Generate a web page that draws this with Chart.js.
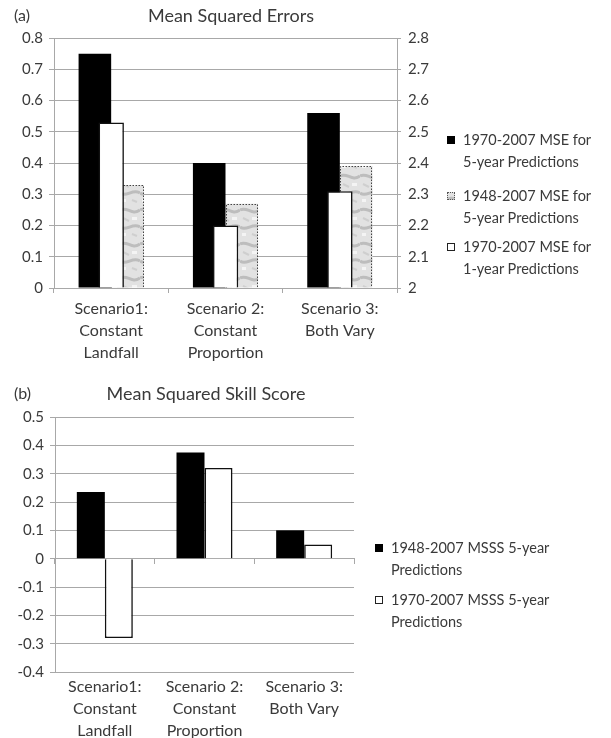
<!DOCTYPE html>
<html lang="en">
<head>
<meta charset="UTF-8">
<title>Mean Squared Errors and Skill Score</title>
<script src="https://cdn.jsdelivr.net/npm/chart.js"></script>
<style>
    body { margin: 0; background: #fff; font-family: Lato, sans-serif; color: #3a3a3a; }
    .wrap { position: relative; width: 611px; height: 738px; overflow: hidden; }
    canvas { position: absolute; left: 0; }
    #chartA { top: 0; }
    #chartB { top: 370px; }
    .tag { position: absolute; left: 14px; font-size: 16px; line-height: 18px; }
    .title { position: absolute; font-size: 18px; line-height: 20px; white-space: nowrap; transform: translateX(-50%); }
    .legend { position: absolute; font-size: 14.5px; line-height: 21.5px; white-space: nowrap; }
    .legend .item { position: relative; padding-left: 16px; }
    .legend .box { position: absolute; left: 0; top: 7px; width: 8px; height: 8px; box-sizing: border-box; }
</style>
</head>
<body>
<div class="wrap">
    <canvas id="chartA" width="611" height="370"></canvas>
    <canvas id="chartB" width="611" height="368"></canvas>

    <div class="tag" style="top:6px">(a)</div>
    <div class="title" style="left:231px; top:5px">Mean Squared Errors</div>
    <div class="legend" style="left:447px; top:129px">
        <div class="item"><span class="box" style="background:#000"></span>1970-2007 MSE for<br>5-year Predictions</div>
        <div class="item" style="margin-top:13px"><span class="box" id="grayBox" style="border:1px dotted #555"></span>1948-2007 MSE for<br>5-year Predictions</div>
        <div class="item" style="margin-top:8px"><span class="box" style="background:#fff;border:1.5px solid #222"></span>1970-2007 MSE for<br>1-year Predictions</div>
    </div>

    <div class="tag" style="top:384px">(b)</div>
    <div class="title" style="left:206px; top:383px">Mean Squared Skill Score</div>
    <div class="legend" style="left:375px; top:537px">
        <div class="item"><span class="box" style="background:#000"></span>1948-2007 MSSS 5-year<br>Predictions</div>
        <div class="item" style="margin-top:9px"><span class="box" style="background:#fff;border:1.5px solid #222"></span>1970-2007 MSSS 5-year<br>Predictions</div>
    </div>
</div>

<script>
    // categories
    const scenarios = [
        ['Scenario1:', 'Constant', 'Landfall'],
        ['Scenario 2:', 'Constant', 'Proportion'],
        ['Scenario 3:', 'Both Vary']
    ];

    // (a) mean squared errors
    const mse1970Five = [0.75, 0.40, 0.56];   // left axis
    const mse1948Five = [2.33, 2.27, 2.39];   // right axis
    const mse1970One = [0.53, 0.20, 0.31];    // left axis

    // (b) mean squared skill score
    const msss1948 = [0.235, 0.375, 0.10];
    const msss1970 = [-0.28, 0.32, 0.05];

    const gridGray = '#a8a8a8';
    const textGray = '#3a3a3a';

    // light marbled gray fill for the 1948-2007 series
    function makeTexture() {
        const c = document.createElement('canvas');
        c.width = 20; c.height = 34;
        const g = c.getContext('2d');
        g.fillStyle = '#e2e2e2';
        g.fillRect(0, 0, 20, 34);
        g.strokeStyle = '#bdbdbd';
        g.lineWidth = 3;
        g.beginPath();
        g.moveTo(0, 6); g.bezierCurveTo(7, 2, 12, 12, 20, 6);
        g.moveTo(0, 23); g.bezierCurveTo(6, 28, 13, 18, 20, 23);
        g.stroke();
        g.strokeStyle = '#cfcfcf';
        g.lineWidth = 2;
        g.beginPath();
        g.moveTo(3, 14); g.lineTo(9, 17);
        g.moveTo(12, 30); g.lineTo(17, 32);
        g.stroke();
        g.fillStyle = '#f4f4f4';
        g.fillRect(12, 13, 5, 3);
        g.fillRect(2, 29, 4, 3);
        return c;
    }
    const texture = makeTexture();
    document.getElementById('grayBox').style.background = 'url(' + texture.toDataURL() + ')';

    // dotted outline drawn right after the textured series, before the white bars
    const dottedOutline = {
        id: 'dottedOutline',
        afterDatasetDraw(chart, args) {
            const ds = chart.data.datasets[args.index];
            if (!ds.dotted) return;
            const ctx = chart.ctx;
            args.meta.data.forEach(bar => {
                const { x, y, base, width } = bar.getProps(['x', 'y', 'base', 'width'], true);
                const l = Math.round(x - width / 2) + 0.5;
                const r = Math.round(x + width / 2) - 0.5;
                const t = Math.round(y) + 0.5;
                ctx.save();
                ctx.strokeStyle = '#444';
                ctx.lineWidth = 1;
                ctx.setLineDash([1.5, 1.5]);
                ctx.beginPath();
                ctx.moveTo(l, base);
                ctx.lineTo(l, t);
                ctx.lineTo(r, t);
                ctx.lineTo(r, base);
                ctx.stroke();
                ctx.restore();
            });
        }
    };

    const tickFont = { family: 'Lato', size: 15 };
    const catFont = { family: 'Lato', size: 16, lineHeight: '22px' };
    const oneDecimal = v => String(Math.round(v * 10) / 10);

    const ctxA = document.getElementById('chartA').getContext('2d');

    new Chart(ctxA, {
        type: 'bar',
        data: {
            labels: scenarios,
            datasets: [
                {
                    // overlaid on top of the pair, centred on the category
                    label: '1970-2007 MSE for 1-year Predictions',
                    data: mse1970One,
                    yAxisID: 'y',
                    grouped: false,
                    backgroundColor: '#fff', borderColor: '#111', borderWidth: 1.6,
                    categoryPercentage: 1, barPercentage: 0.223
                },
                {
                    label: '1970-2007 MSE for 5-year Predictions',
                    data: mse1970Five,
                    yAxisID: 'y',
                    backgroundColor: '#000',
                    categoryPercentage: 0.57, barPercentage: 1
                },
                {
                    label: '1948-2007 MSE for 5-year Predictions',
                    data: mse1948Five,
                    yAxisID: 'y2',
                    backgroundColor: ctxA.createPattern(texture, 'repeat'),
                    base: 2, dotted: true,
                    categoryPercentage: 0.57, barPercentage: 1
                }
            ]
        },
        options: {
            responsive: false,
            animation: false,
            layout: { padding: { left: 0, top: 38, right: 174, bottom: 0 } },
            plugins: { legend: { display: false }, tooltip: { enabled: false } },
            scales: {
                x: {
                    type: 'category',
                    offset: true,
                    grid: { drawOnChartArea: false, tickLength: 5, color: gridGray },
                    border: { display: true, color: gridGray },
                    ticks: { font: catFont, color: textGray, padding: 5, maxRotation: 0, autoSkip: false },
                    afterFit: s => { s.height = 82; }
                },
                y: {
                    min: 0, max: 0.8,
                    ticks: { stepSize: 0.1, font: tickFont, color: textGray, padding: 6, callback: oneDecimal },
                    grid: { color: gridGray, tickLength: 5 },
                    border: { display: true, color: gridGray },
                    afterFit: s => { s.width = 54; }
                },
                y2: {
                    position: 'right',
                    min: 2, max: 2.8,
                    ticks: { stepSize: 0.1, font: tickFont, color: textGray, padding: 7, callback: oneDecimal },
                    grid: { drawOnChartArea: false, color: gridGray, tickLength: 4 },
                    border: { display: true, color: gridGray },
                    afterFit: s => { s.width = 40; }
                }
            }
        },
        plugins: [dottedOutline]
    });

    new Chart(document.getElementById('chartB'), {
        type: 'bar',
        data: {
            labels: scenarios,
            datasets: [
                {
                    label: '1948-2007 MSSS 5-year Predictions',
                    data: msss1948,
                    xAxisID: 'x', yAxisID: 'y',
                    backgroundColor: '#000',
                    categoryPercentage: 0.562, barPercentage: 1
                },
                {
                    label: '1970-2007 MSSS 5-year Predictions',
                    data: msss1970,
                    xAxisID: 'x', yAxisID: 'y',
                    backgroundColor: '#fff', borderColor: '#111', borderWidth: 1.6,
                    categoryPercentage: 0.562, barPercentage: 1
                }
            ]
        },
        options: {
            responsive: false,
            animation: false,
            layout: { padding: { left: 0, top: 47, right: 257, bottom: 0 } },
            plugins: { legend: { display: false }, tooltip: { enabled: false } },
            scales: {
                x: {
                    type: 'category',
                    offset: true,
                    grid: { display: false, drawTicks: false },
                    border: { display: false },
                    ticks: { font: catFont, color: textGray, padding: 4, maxRotation: 0, autoSkip: false },
                    afterFit: s => { s.height = 66; }
                },
                xz: {
                    // axis line with category ticks along zero
                    type: 'category',
                    axis: 'x',
                    position: { y: 0 },
                    offset: true,
                    ticks: { display: false },
                    grid: { drawOnChartArea: false, tickLength: 5, color: gridGray },
                    border: { display: true, color: gridGray }
                },
                y: {
                    min: -0.4, max: 0.5,
                    ticks: { stepSize: 0.1, font: tickFont, color: textGray, padding: 6, callback: oneDecimal },
                    grid: { color: gridGray, tickLength: 5 },
                    border: { display: true, color: gridGray },
                    afterFit: s => { s.width = 55; }
                }
            }
        }
    });
</script>
</body>
</html>
